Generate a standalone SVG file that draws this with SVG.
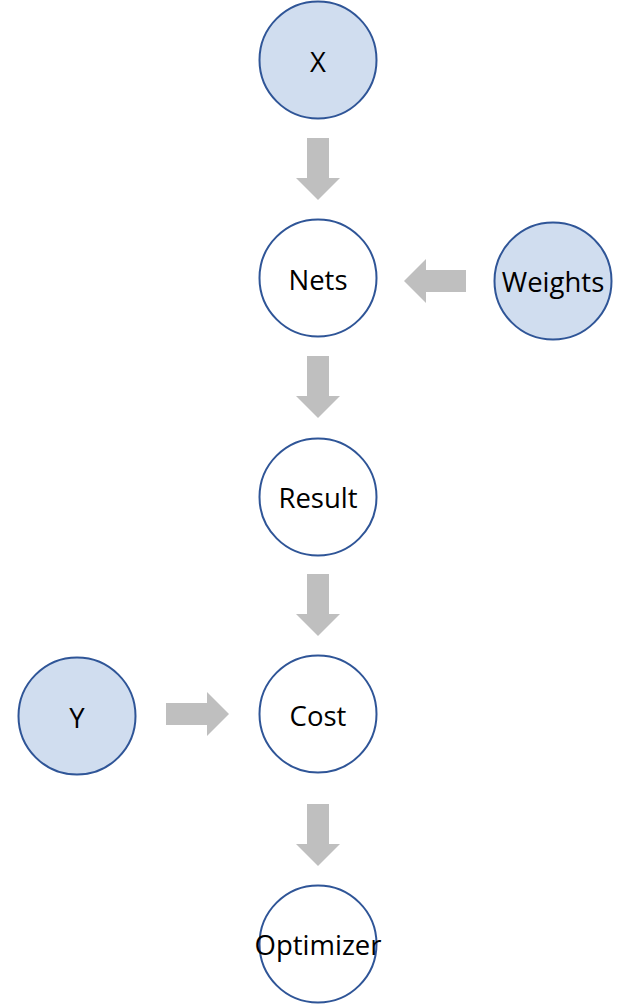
<svg xmlns="http://www.w3.org/2000/svg" width="624" height="1004" viewBox="0 0 624 1004">
<style>
.in{fill:#D0DDEF;stroke:#2F5597;stroke-width:2}
.op{fill:#FFFFFF;stroke:#2F5597;stroke-width:2}
.t{font-family:"Open Sans","Noto Sans",sans-serif;font-size:27.5px;fill:#000;text-anchor:middle;dominant-baseline:central}
.ar{fill:#BFBFBF}
</style>
<rect width="624" height="1004" fill="#FFFFFF"/>
<g id="X"><circle class="in" cx="318" cy="60" r="58.5"/><text class="t" x="318" y="61">X</text></g>
<g id="Nets"><circle class="op" cx="318" cy="278" r="58.5"/><text class="t" x="318" y="279">Nets</text></g>
<g id="Weights"><circle class="in" cx="553" cy="281" r="58.5"/><text class="t" x="553" y="281">Weights</text></g>
<g id="Result"><circle class="op" cx="318" cy="497" r="58.5"/><text class="t" x="318" y="497">Result</text></g>
<g id="Y"><circle class="in" cx="77" cy="716" r="58.5"/><text class="t" x="77" y="717">Y</text></g>
<g id="Cost"><circle class="op" cx="318" cy="714" r="58.5"/><text class="t" x="318" y="715">Cost</text></g>
<g id="Optimizer"><circle class="op" cx="318" cy="944" r="58.5"/><text class="t" x="318" y="944">Optimizer</text></g>
<g id="connectors">
<path class="ar" d="M307,138H329V178H340L318,200L296,178H307Z"/>
<path class="ar" d="M307,356H329V396H340L318,418L296,396H307Z"/>
<path class="ar" d="M307,574H329V614H340L318,636L296,614H307Z"/>
<path class="ar" d="M307,804H329V844H340L318,866L296,844H307Z"/>
<path class="ar" d="M466,270V292H426V303L404,281L426,259V270Z"/>
<path class="ar" d="M166,703V725H207V736L229,714L207,692V703Z"/>
</g>
</svg>
